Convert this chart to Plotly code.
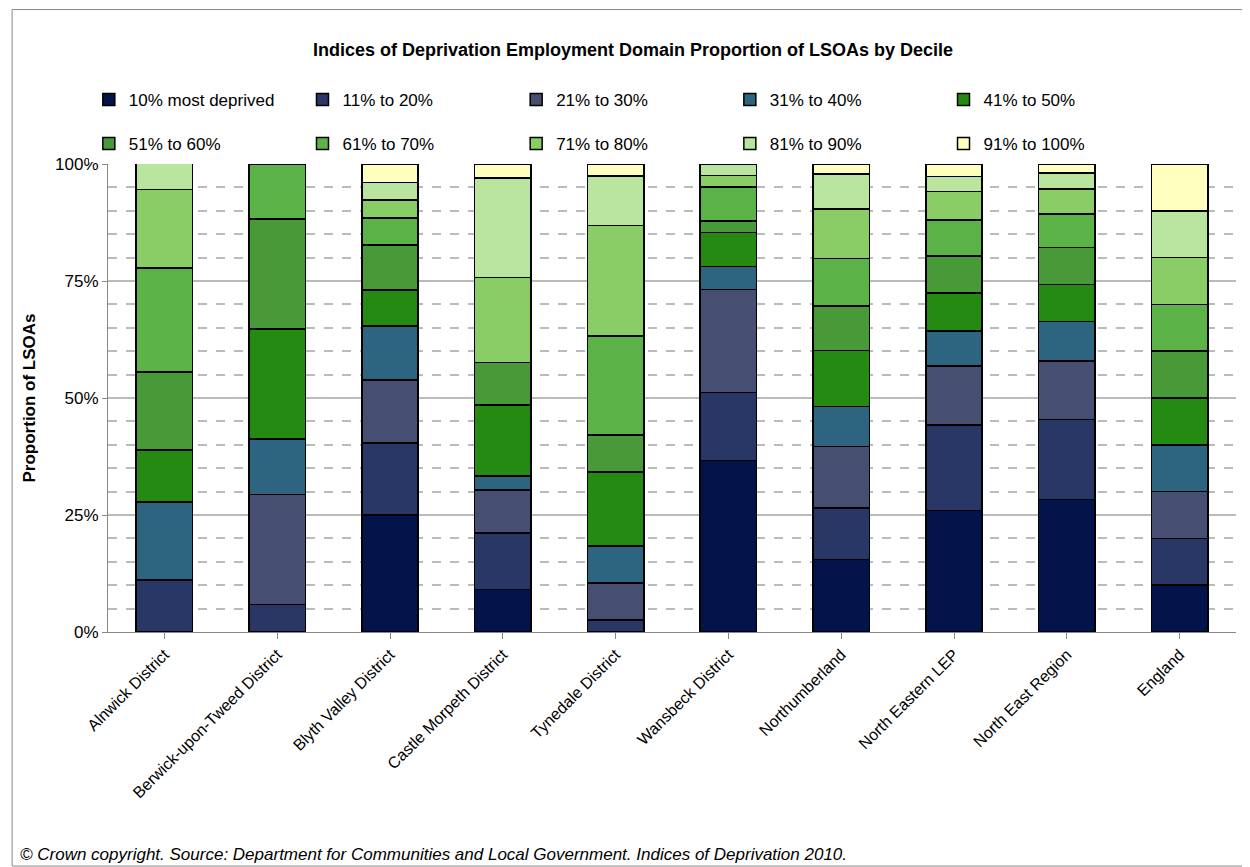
import plotly.graph_objects as go

categories = ["Alnwick District", "Berwick-upon-Tweed District", "Blyth Valley District",
              "Castle Morpeth District", "Tynedale District", "Wansbeck District",
              "Northumberland", "North Eastern LEP", "North East Region", "England"]
series_names = ["10% most deprived", "11% to 20%", "21% to 30%", "31% to 40%", "41% to 50%",
                "51% to 60%", "61% to 70%", "71% to 80%", "81% to 90%", "91% to 100%"]
d1 = [0, 0, 25.0, 9.1, 0, 36.6, 15.5, 26.0, 28.3, 10]
d2 = [11.1, 5.9, 15.4, 12.1, 2.6, 14.6, 11.0, 18.2, 17.1, 10]
d3 = [0, 23.5, 13.5, 9.1, 7.9, 22.0, 13.1, 12.6, 12.5, 10]
d4 = [16.7, 11.8, 11.5, 3.0, 7.9, 4.9, 8.6, 7.5, 8.4, 10]
d5 = [11.1, 23.5, 7.7, 15.2, 15.8, 7.3, 12.0, 8.1, 7.9, 10]
d6 = [16.7, 23.5, 9.6, 9.1, 7.9, 2.4, 9.5, 7.9, 8.0, 10]
d7 = [22.2, 11.8, 5.8, 0, 21.1, 7.3, 10.1, 7.7, 7.1, 10]
d8 = [16.7, 0, 3.8, 18.2, 23.7, 2.4, 10.6, 6.1, 5.4, 10]
d9 = [5.6, 0, 3.8, 21.2, 10.5, 2.4, 7.5, 3.2, 3.4, 10]
d10 = [0, 0, 3.8, 3.0, 2.6, 0, 2.1, 2.7, 1.9, 10]
series = [d1, d2, d3, d4, d5, d6, d7, d8, d9, d10]
colors = ["#021449", "#283766", "#464F72", "#2D6480", "#248A12",
          "#489938", "#5BB348", "#8ACC66", "#B9E59E", "#FFFFC0"]

fig = go.Figure()
for i, (name, vals, c) in enumerate(zip(series_names, series, colors)):
    fig.add_trace(go.Bar(x=categories, y=vals, name=name, width=0.5,
                         legend="legend" if i < 5 else "legend2",
                         marker=dict(color=c, line=dict(color="black", width=1.5))))

leg = dict(orientation="h", x=-0.017, xanchor="left", yanchor="middle",
           entrywidth=0.174, entrywidthmode="fraction", traceorder="normal",
           font=dict(size=17), itemwidth=30)

fig.update_layout(
    barmode="stack", width=1250, height=867,
    paper_bgcolor="white", plot_bgcolor="white",
    font=dict(family="Liberation Sans", size=17, color="black"),
    title=dict(text="<b>Indices of Deprivation Employment Domain Proportion of LSOAs by Decile</b>",
               x=0.5, xanchor="center", y=0.952, yanchor="middle", font=dict(size=18)),
    margin=dict(l=100, r=22, t=156, b=243),
    legend=dict(leg, y=1.137),
    legend2=dict(leg, y=1.043),
    xaxis=dict(tickangle=-45, showline=True, linecolor="#888", ticks="outside",
               tickcolor="#888", ticklen=6, tickfont=dict(size=16)),
    yaxis=dict(range=[0, 100], tickvals=[0, 25, 50, 75, 100],
               ticktext=["0%", "25%", "50%", "75%", "100%"],
               showgrid=True, gridcolor="#BBBBBB", gridwidth=1.5,
               showline=True, linecolor="#888", ticks="outside", tickcolor="#888",
               title=dict(text="<b>Proportion of LSOAs</b>", font=dict(size=17)),
               minor=dict(dtick=5, showgrid=True, gridcolor="#BBBBBB", griddash="dash", gridwidth=1.5)),
    shapes=[dict(type="rect", xref="paper", yref="paper", x0=-0.085, x1=1.017, y0=-0.50, y1=1.33,
                 layer="above", line=dict(color="#888", width=1))],
    annotations=[dict(text="<i>© Crown copyright. Source: Department for Communities and Local Government. Indices of Deprivation 2010.</i>",
                      xref="paper", yref="paper", x=-0.08, y=-0.476, xanchor="left", yanchor="middle",
                      showarrow=False, font=dict(size=17))],
)
fig.write_html("out.html")
